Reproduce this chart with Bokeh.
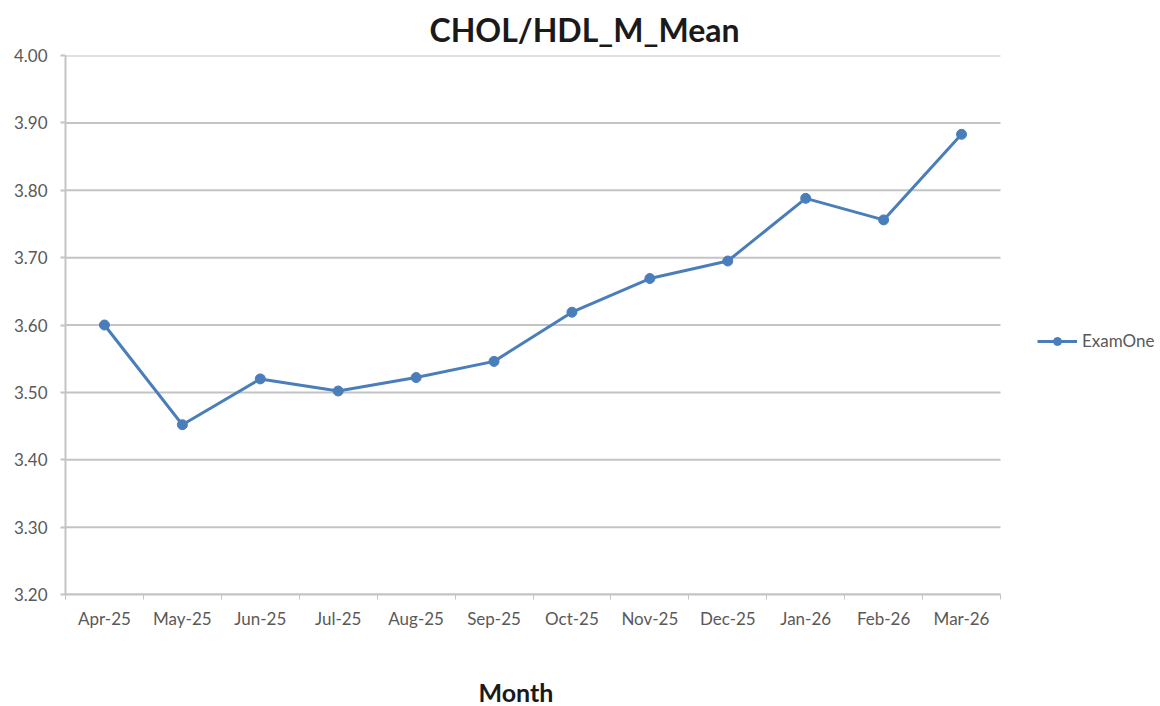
from bokeh.plotting import figure
from bokeh.models import (ColumnDataSource, FixedTicker, Legend, LegendItem,
                          NumeralTickFormatter, Range1d, Title)
from bokeh.embed import file_html
from bokeh.resources import INLINE

months = ["Apr-25", "May-25", "Jun-25", "Jul-25", "Aug-25", "Sep-25",
          "Oct-25", "Nov-25", "Dec-25", "Jan-26", "Feb-26", "Mar-26"]
exam_one = [3.60, 3.452, 3.52, 3.502, 3.522, 3.546, 3.619, 3.669, 3.695,
            3.788, 3.756, 3.883]
y_ticks = [3.20, 3.30, 3.40, 3.50, 3.60, 3.70, 3.80, 3.90, 4.00]

n = len(months)
xs = [i + 0.5 for i in range(n)]
src = ColumnDataSource(dict(x=xs, y=exam_one))

FONT = "Lato"
TICK_COLOR = "#595959"
GRID = "#c4c4c4"
W, H = 1160, 706
LEFT, TOP, BOTTOM = 65, 55, 112
PLOT_RIGHT = 1000                       # right edge of the plotting area
frame_w = W - LEFT
x_end = n * frame_w / (PLOT_RIGHT - LEFT)   # frame extends under the legend

p = figure(width=W, height=H, output_backend="svg", toolbar_location=None,
           x_range=Range1d(0, x_end), y_range=Range1d(y_ticks[0], y_ticks[-1]),
           min_border_left=LEFT, min_border_right=0, min_border_top=TOP,
           min_border_bottom=BOTTOM, outline_line_color=None)

p.title.text = "CHOL/HDL_M_Mean"
p.title.text_font = FONT
p.title.text_font_size = "32px"
p.title.text_font_style = "bold"
p.title.text_color = "#1a1a1a"
p.title.align = "left"
p.title.offset = 364
p.title.standoff = 14

# horizontal grid lines, limited to the plotting area
p.xgrid.grid_line_color = None
p.ygrid.grid_line_color = None
p.segment(x0=[0] * len(y_ticks), x1=[n] * len(y_ticks), y0=y_ticks, y1=y_ticks,
          line_color=GRID, line_width=2)

# x axis
xa = p.xaxis[0]
xa.bounds = (0, n)
xa.ticker = FixedTicker(ticks=xs, minor_ticks=list(range(n + 1)))
xa.major_label_overrides = {x: m for x, m in zip(xs, months)}
xa.major_tick_line_color = None
xa.major_tick_out = 0
xa.major_tick_in = 0
xa.minor_tick_out = 5
xa.minor_tick_in = 0
xa.minor_tick_line_color = GRID
xa.minor_tick_line_width = 1
xa.axis_line_color = GRID
xa.axis_line_width = 2
xa.major_label_text_font = FONT
xa.major_label_text_font_size = "17px"
xa.major_label_text_color = TICK_COLOR
xa.major_label_standoff = 8

# blank spacer between the tick labels and the "Month" title
spacer = Title(text=" ", standoff=29, text_font=FONT, text_font_size="10px")
p.add_layout(spacer, "below")
month_title = Title(text="Month", align="left", offset=413, standoff=0,
                    text_font=FONT, text_font_size="25px", text_font_style="bold",
                    text_color="#1a1a1a")
p.add_layout(month_title, "below")

# y axis
ya = p.yaxis[0]
ya.ticker = FixedTicker(ticks=y_ticks)
ya.formatter = NumeralTickFormatter(format="0.00")
ya.major_tick_out = 5
ya.major_tick_in = 0
ya.minor_tick_line_color = None
ya.major_tick_line_color = GRID
ya.major_tick_line_width = 2
ya.axis_line_color = GRID
ya.axis_line_width = 2
ya.major_label_text_font = FONT
ya.major_label_text_font_size = "17px"
ya.major_label_text_color = TICK_COLOR
ya.major_label_standoff = 13

color = "#4a7ebb"
ln = p.line("x", "y", source=src, line_color=color, line_width=3)
sc = p.scatter("x", "y", source=src, size=10, fill_color=color, line_color=color)

legend = Legend(items=[LegendItem(label="ExamOne", renderers=[ln, sc])],
                location=(1037 - LEFT, 243), padding=0, margin=0,
                border_line_color=None, background_fill_alpha=0,
                glyph_width=40, glyph_height=20, label_height=20,
                label_standoff=5, label_text_font=FONT,
                label_text_font_size="17px", label_text_color=TICK_COLOR)
p.add_layout(legend)

open("out.html", "w").write(file_html(p, INLINE))
